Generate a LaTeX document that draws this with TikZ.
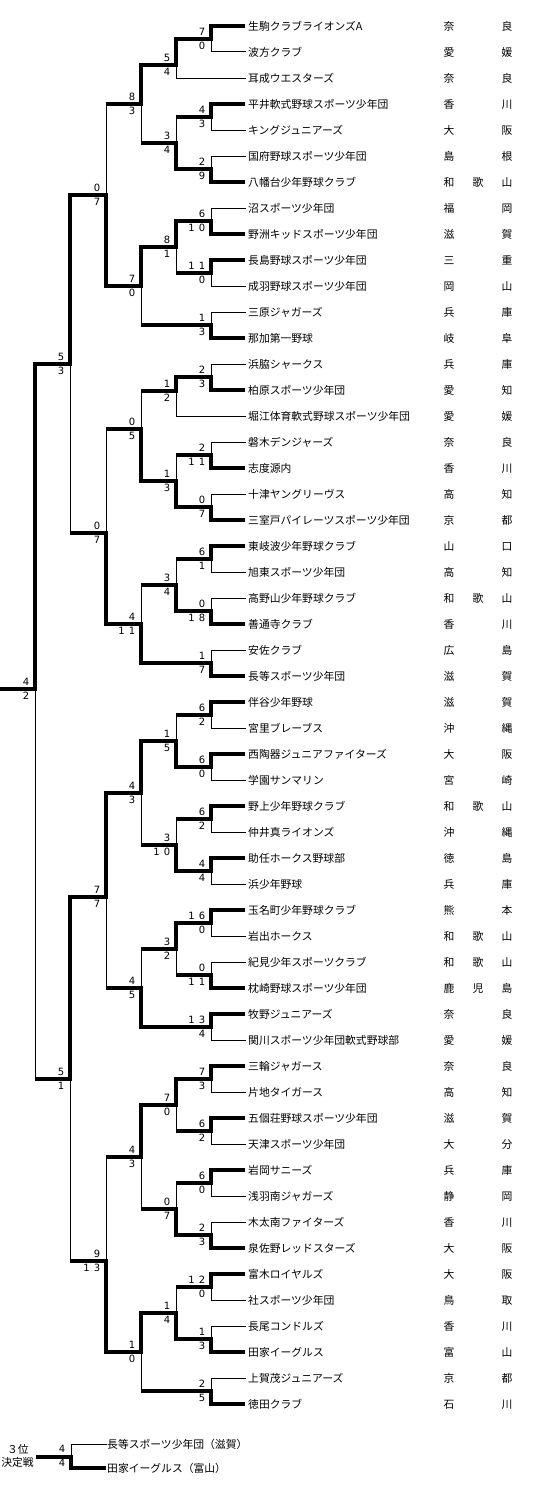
\documentclass[tikz,border=0pt]{standalone}
\usepackage{fontspec}
\newfontfamily\jpfont{Noto Sans CJK JP}
\newfontfamily\scorefont{DejaVu Sans}
\newcommand\twd[2]{#1\kern4.2pt#2}
\tikzset{
 thk/.style={line width=4pt, line join=miter},
 thn/.style={line width=1pt, line cap=rect},
 sc/.style={font=\scorefont\fontsize{10}{10}\selectfont, inner sep=0pt, anchor=east},
 nm/.style={font=\jpfont\fontsize{10.8}{10.8}\selectfont, inner sep=0pt, anchor=base west},
 pf/.style={font=\jpfont\fontsize{10.8}{10.8}\selectfont, inner sep=0pt, anchor=base},
}
% team: idx, parent x, name, pref1, pref2, pref3, line style
\newcommand\tm[7]{%
 \coordinate (e#1) at (245,26*#1);
 \draw[#7] (#2,26*#1) -- (e#1);
 \node[nm] (t#1) at (248,26*#1+4.1) {#3};
 \node[pf] (p#1a) at (449,26*#1+4.1) {#4};
 \node[pf] (p#1b) at (478,26*#1+4.1) {#5};
 \node[pf] (p#1c) at (507,26*#1+4.1) {#6};
}
% match: name, xv, ytop, ybot, yout, xparent, upper score, lower score, winner u/l
\newcommand\mt[9]{%
 \coordinate (#1) at (#2,#5);
 \coordinate (#1p) at (#6,#5);
 \if u#9
  \draw[thk] (#2,#3-2) -- (#1) -- (#1p);
  \draw[thn] (#1) -- (#2,#4);
 \else
  \draw[thk] (#2,#4+2) -- (#1) -- (#1p);
  \draw[thn] (#1) -- (#2,#3);
 \fi
 \node[sc] (#1u) at (#2-5.5,#5-7.5) {#7};
 \node[sc] (#1l) at (#2-5.5,#5+6.5) {#8};
}
\begin{document}
\begin{tikzpicture}[x=1pt,y=-1pt]
\useasboundingbox (0,0) rectangle (537,1496);
\tm{1}{211}{生駒クラブライオンズA}{奈}{}{良}{thk}
\tm{2}{211}{波方クラブ}{愛}{}{媛}{thn}
\tm{3}{176}{耳成ウエスターズ}{奈}{}{良}{thn}
\tm{4}{211}{平井軟式野球スポーツ少年団}{香}{}{川}{thk}
\tm{5}{211}{キングジュニアーズ}{大}{}{阪}{thn}
\tm{6}{211}{国府野球スポーツ少年団}{島}{}{根}{thn}
\tm{7}{211}{八幡台少年野球クラブ}{和}{歌}{山}{thk}
\tm{8}{211}{沼スポーツ少年団}{福}{}{岡}{thn}
\tm{9}{211}{野洲キッドスポーツ少年団}{滋}{}{賀}{thk}
\tm{10}{211}{長島野球スポーツ少年団}{三}{}{重}{thk}
\tm{11}{211}{成羽野球スポーツ少年団}{岡}{}{山}{thn}
\tm{12}{211}{三原ジャガーズ}{兵}{}{庫}{thn}
\tm{13}{211}{那加第一野球}{岐}{}{阜}{thk}
\tm{14}{211}{浜脇シャークス}{兵}{}{庫}{thn}
\tm{15}{211}{柏原スポーツ少年団}{愛}{}{知}{thk}
\tm{16}{176}{堀江体育軟式野球スポーツ少年団}{愛}{}{媛}{thn}
\tm{17}{211}{磐木デンジャーズ}{奈}{}{良}{thn}
\tm{18}{211}{志度源内}{香}{}{川}{thk}
\tm{19}{211}{十津ヤングリーヴス}{高}{}{知}{thn}
\tm{20}{211}{三室戸パイレーツスポーツ少年団}{京}{}{都}{thk}
\tm{21}{211}{東岐波少年野球クラブ}{山}{}{口}{thk}
\tm{22}{211}{旭東スポーツ少年団}{高}{}{知}{thn}
\tm{23}{211}{高野山少年野球クラブ}{和}{歌}{山}{thn}
\tm{24}{211}{善通寺クラブ}{香}{}{川}{thk}
\tm{25}{211}{安佐クラブ}{広}{}{島}{thn}
\tm{26}{211}{長等スポーツ少年団}{滋}{}{賀}{thk}
\tm{27}{211}{伴谷少年野球}{滋}{}{賀}{thk}
\tm{28}{211}{宮里ブレーブス}{沖}{}{縄}{thn}
\tm{29}{211}{西陶器ジュニアファイターズ}{大}{}{阪}{thk}
\tm{30}{211}{学園サンマリン}{宮}{}{崎}{thn}
\tm{31}{211}{野上少年野球クラブ}{和}{歌}{山}{thk}
\tm{32}{211}{仲井真ライオンズ}{沖}{}{縄}{thn}
\tm{33}{211}{助任ホークス野球部}{徳}{}{島}{thk}
\tm{34}{211}{浜少年野球}{兵}{}{庫}{thn}
\tm{35}{211}{玉名町少年野球クラブ}{熊}{}{本}{thk}
\tm{36}{211}{岩出ホークス}{和}{歌}{山}{thn}
\tm{37}{211}{紀見少年スポーツクラブ}{和}{歌}{山}{thn}
\tm{38}{211}{枕崎野球スポーツ少年団}{鹿}{児}{島}{thk}
\tm{39}{211}{牧野ジュニアーズ}{奈}{}{良}{thk}
\tm{40}{211}{関川スポーツ少年団軟式野球部}{愛}{}{媛}{thn}
\tm{41}{211}{三輪ジャガース}{奈}{}{良}{thk}
\tm{42}{211}{片地タイガース}{高}{}{知}{thn}
\tm{43}{211}{五個荘野球スポーツ少年団}{滋}{}{賀}{thk}
\tm{44}{211}{天津スポーツ少年団}{大}{}{分}{thn}
\tm{45}{211}{岩岡サニーズ}{兵}{}{庫}{thk}
\tm{46}{211}{浅羽南ジャガーズ}{静}{}{岡}{thn}
\tm{47}{211}{木太南ファイターズ}{香}{}{川}{thn}
\tm{48}{211}{泉佐野レッドスターズ}{大}{}{阪}{thk}
\tm{49}{211}{富木ロイヤルズ}{大}{}{阪}{thk}
\tm{50}{211}{社スポーツ少年団}{鳥}{}{取}{thn}
\tm{51}{211}{長尾コンドルズ}{香}{}{川}{thn}
\tm{52}{211}{田家イーグルス}{富}{}{山}{thk}
\tm{53}{211}{上賀茂ジュニアーズ}{京}{}{都}{thn}
\tm{54}{211}{徳田クラブ}{石}{}{川}{thk}
% round 1
\mt{a1}{211}{26}{52}{39}{176}{7}{0}{u}
\mt{a2}{211}{104}{130}{117}{176}{4}{3}{u}
\mt{a3}{211}{156}{182}{169}{176}{2}{9}{l}
\mt{a4}{211}{208}{234}{221}{176}{6}{\twd10}{l}
\mt{a5}{211}{260}{286}{273}{176}{\twd11}{0}{u}
\mt{a6}{211}{312}{338}{325}{141}{1}{3}{l}
\mt{a7}{211}{364}{390}{377}{176}{2}{3}{l}
\mt{a8}{211}{442}{468}{455}{176}{2}{\twd11}{l}
\mt{a9}{211}{494}{520}{507}{176}{0}{7}{l}
\mt{a10}{211}{546}{572}{559}{176}{6}{1}{u}
\mt{a11}{211}{598}{624}{611}{176}{0}{\twd18}{l}
\mt{a12}{211}{650}{676}{663}{141}{1}{7}{l}
\mt{a13}{211}{702}{728}{715}{176}{6}{2}{u}
\mt{a14}{211}{754}{780}{767}{176}{6}{0}{u}
\mt{a15}{211}{806}{832}{819}{176}{6}{2}{u}
\mt{a16}{211}{858}{884}{871}{176}{4}{4}{u}
\mt{a17}{211}{910}{936}{923}{176}{\twd16}{0}{u}
\mt{a18}{211}{962}{988}{975}{176}{0}{\twd11}{l}
\mt{a19}{211}{1014}{1040}{1027}{141}{\twd13}{4}{u}
\mt{a20}{211}{1066}{1092}{1079}{176}{7}{3}{u}
\mt{a21}{211}{1118}{1144}{1131}{176}{6}{2}{u}
\mt{a22}{211}{1170}{1196}{1183}{176}{6}{0}{u}
\mt{a23}{211}{1222}{1248}{1235}{176}{2}{3}{l}
\mt{a24}{211}{1274}{1300}{1287}{176}{\twd12}{0}{u}
\mt{a25}{211}{1326}{1352}{1339}{176}{1}{3}{l}
\mt{a26}{211}{1378}{1404}{1391}{141}{2}{5}{l}
% round 2
\mt{b1}{176}{39}{78}{65}{141}{5}{4}{u}
\mt{b2}{176}{117}{169}{143}{141}{3}{4}{l}
\mt{b3}{176}{221}{273}{247}{141}{8}{1}{u}
\mt{b4}{176}{377}{416}{391}{141}{1}{2}{u}
\mt{b5}{176}{455}{507}{481}{141}{1}{3}{l}
\mt{b6}{176}{559}{611}{585}{141}{3}{4}{l}
\mt{b7}{176}{715}{767}{741}{141}{1}{5}{l}
\mt{b8}{176}{819}{871}{845}{141}{3}{\twd10}{l}
\mt{b9}{176}{923}{975}{949}{141}{3}{2}{u}
\mt{b10}{176}{1079}{1131}{1105}{141}{7}{0}{u}
\mt{b11}{176}{1183}{1235}{1209}{141}{0}{7}{l}
\mt{b12}{176}{1287}{1339}{1313}{141}{1}{4}{l}
% round 3
\mt{c1}{141}{65}{143}{104}{106}{8}{3}{u}
\mt{c2}{141}{247}{325}{286}{106}{7}{0}{u}
\mt{c3}{141}{391}{481}{429}{106}{0}{5}{l}
\mt{c4}{141}{585}{663}{624}{106}{4}{\twd11}{l}
\mt{c5}{141}{741}{845}{793}{106}{4}{3}{u}
\mt{c6}{141}{949}{1027}{988}{106}{4}{5}{l}
\mt{c7}{141}{1105}{1209}{1157}{106}{4}{3}{u}
\mt{c8}{141}{1313}{1391}{1352}{106}{1}{0}{u}
% round 4
\mt{d1}{106}{104}{286}{195}{70}{0}{7}{l}
\mt{d2}{106}{429}{624}{533}{70}{0}{7}{l}
\mt{d3}{106}{793}{988}{897}{70}{7}{7}{u}
\mt{d4}{106}{1157}{1352}{1261}{70}{9}{\twd13}{l}
% semi-finals
\mt{s1}{70}{195}{533}{364}{35}{5}{3}{u}
\mt{s2}{70}{897}{1261}{1079}{35}{5}{1}{u}
% final
\mt{fin}{35}{364}{1079}{689}{0}{4}{2}{u}
% third place match
\node[pf] (q1) at (18,1453.1) {３位};
\node[pf] (q2) at (17.5,1466.1) {決定戦};
\coordinate (q0) at (36,1457);
\coordinate (qm) at (71,1457);
\coordinate (qa) at (71,1444);
\coordinate (qb) at (71,1468);
\coordinate (qae) at (106,1444);
\coordinate (qbe) at (106,1468);
\draw[thn] (qm) -- (qa) -- (qae);
\draw[thk] (q0) -- (qm) -- (qb) -- (qbe);
\node[sc] (qu) at (65.5,1449) {4};
\node[sc] (ql) at (65.5,1462.5) {4};
\node[nm] (r1) at (107,1448.1) {長等スポーツ少年団（滋賀）};
\node[nm] (r2) at (107,1472.1) {田家イーグルス（富山）};
\end{tikzpicture}
\end{document}
